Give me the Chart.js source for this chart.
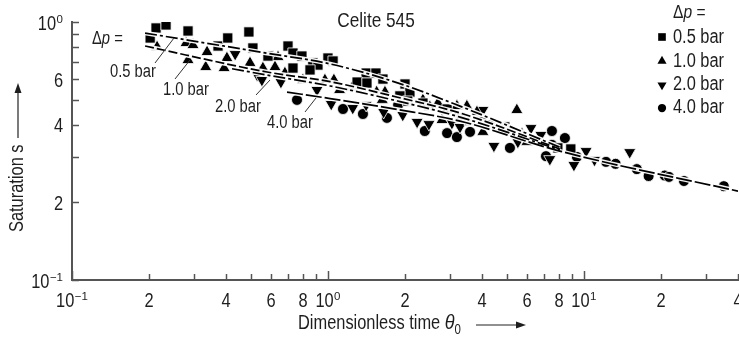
<!DOCTYPE html>
<html><head><meta charset="utf-8">
<script src="https://cdn.jsdelivr.net/npm/chart.js@4.4.1/dist/chart.umd.min.js"></script>
<style>
html,body{margin:0;padding:0;background:#fff;overflow:hidden;width:739px;height:341px}
#wrap{position:relative;width:760px;height:341px}
</style></head><body><div id="wrap"><canvas id="c"></canvas></div>
<script>
const FONT = '"Liberation Sans Narrow","Arial Narrow","Liberation Sans",Arial,sans-serif';
const SX = 0.82; // horizontal condensation of the sans font

// ---- tick values and labels: [base, superscript] ----
const xTickValues = [0.1,0.2,0.3,0.4,0.5,0.6,0.7,0.8,0.9,1,2,3,4,5,6,7,8,9,10,20,30,40];
const xTickLabels = [['10','-1'],['2',''],null,['4',''],null,['6',''],null,['8',''],null,['10','0'],['2',''],null,['4',''],null,['6',''],null,['8',''],null,['10','1'],['2',''],null,['4','']];
const yTickValues = [0.1,0.2,0.3,0.4,0.5,0.6,0.7,0.8,0.9,1];
const yTickLabels = [['10','-1'],['2',''],null,['4',''],null,['6',''],null,null,null,['10','0']];

// ---- series labels ----
const seriesLabels = ['0.5 bar','1.0 bar','2.0 bar','4.0 bar'];

// ---- Δp = 0.5 bar (squares) ----
const theta05 = [0.202,0.213,0.233,0.284,0.372,0.406,0.491,0.509,0.583,0.698,0.730,0.791,0.730,0.873,0.914,0.851,1.0,1.047,1.41,1.54,1.30,1.42,1.64,2.0,2.09,1.91,2.05,2.35,2.92,3.28,4.91,7.91,8.89];
const sat05   = [0.867,0.948,0.974,0.923,0.807,0.867,0.915,0.793,0.738,0.807,0.758,0.738,0.663,0.694,0.681,0.652,0.725,0.706,0.634,0.634,0.585,0.580,0.601,0.575,0.535,0.517,0.494,0.485,0.460,0.428,0.392,0.325,0.322];

// ---- Δp = 1.0 bar (triangles up) ----
const theta10 = [0.215,0.279,0.297,0.284,0.337,0.333,0.393,0.403,0.496,0.557,0.609,0.638,0.621,0.679,0.798,0.973,1.055,1.11,1.24,1.55,1.67,1.63,2.35,2.50,2.69,3.19,3.49,2.79,3.59,3.82,5.47,4.03,5.23,5.73,5.99];
const sat10   = [0.800,0.829,0.814,0.712,0.765,0.669,0.663,0.725,0.694,0.663,0.732,0.732,0.669,0.634,0.596,0.596,0.596,0.545,0.555,0.535,0.535,0.499,0.499,0.469,0.485,0.472,0.472,0.417,0.410,0.448,0.456,0.375,0.371,0.368,0.343];

// ---- Δp = 2.0 bar (triangles down) ----
const theta20 = [0.434,0.529,0.552,0.655,0.906,1.03,1.25,1.41,1.65,1.96,2.23,2.48,3.05,3.28,4.03,4.0,4.45,5.52,6.21,6.79,7.36,9.14,10.2,11.0,15.1];
const sat20   = [0.751,0.623,0.596,0.585,0.545,0.481,0.464,0.477,0.448,0.436,0.410,0.402,0.406,0.392,0.456,0.417,0.331,0.343,0.388,0.365,0.294,0.279,0.316,0.292,0.313];

// ---- Δp = 4.0 bar (circles) ----
const theta40 = [0.757,1.145,1.37,1.70,1.88,2.39,2.92,3.19,3.59,4.29,5.14,7.50,8.43,7.50,7.11,9.39,12.2,13.3,16.1,17.9,20.7,21.5,24.6,35.2];
const sat40   = [0.499,0.460,0.440,0.425,0.477,0.378,0.371,0.358,0.375,0.399,0.325,0.378,0.355,0.334,0.302,0.300,0.287,0.282,0.269,0.253,0.254,0.251,0.242,0.231];

// ---- fitted curves ----
const fit05Theta = [0.193,0.578,1.02,1.87,3.28,8.05];
const fit05Sat   = [0.906,0.757,0.688,0.581,0.472,0.327];
const fit10Theta = [0.193,0.578,1.02,1.87,3.28,8.05];
const fit10Sat   = [0.807,0.640,0.587,0.511,0.444,0.322];
const fit20Theta = [0.422,0.593,1.02,1.87,3.28,8.05];
const fit20Sat   = [0.659,0.620,0.565,0.494,0.428,0.319];
const fit40Theta = [0.692,1.02,1.87,3.28,8.05,40];
const fit40Sat   = [0.535,0.505,0.458,0.413,0.316,0.221];

const toPts = (xs, ys) => xs.map((x, i) => ({x: x, y: ys[i]}));

const markerStyles = [
  {pointStyle:'rect', rotation:0, radius:7.2},
  {pointStyle:'triangle', rotation:0, radius:7.0},
  {pointStyle:'triangle', rotation:180, radius:7.0},
  {pointStyle:'circle', rotation:0, radius:5.5}
];
const scatterSets = [[theta05,sat05],[theta10,sat10],[theta20,sat20],[theta40,sat40]];
const fitSets = [[fit05Theta,fit05Sat],[fit10Theta,fit10Sat],[fit20Theta,fit20Sat],[fit40Theta,fit40Sat]];
const fitDash = [[12,3,3,3],[9,3],[12,3,3,3],[16,3]];

const datasets = [];
scatterSets.forEach((s, i) => {
  datasets.push({
    label: seriesLabels[i], data: toPts(s[0], s[1]), order: 3,
    pointStyle: markerStyles[i].pointStyle, rotation: markerStyles[i].rotation,
    pointRadius: markerStyles[i].radius, backgroundColor:'#000', borderColor:'#fff', borderWidth:0.8, showLine:false
  });
});
fitSets.forEach((f, i) => {
  datasets.push({label:'halo'+i, data: toPts(f[0], f[1]), order: 2, showLine:true, pointRadius:0,
    borderColor:'rgba(255,255,255,0.95)', borderWidth:4.5, cubicInterpolationMode:'monotone', fill:false});
  datasets.push({label:'fit'+i, data: toPts(f[0], f[1]), order: 1, showLine:true, pointRadius:0,
    borderColor:'#000', borderWidth:1.7, borderDash: fitDash[i], cubicInterpolationMode:'monotone', fill:false});
});

const annot = {
  id:'annot',
  afterDraw(chart){
    const ctx = chart.ctx, xs = chart.scales.x, ys = chart.scales.y;
    const ca = chart.chartArea;
    ctx.save();
    // inward tick marks
    ctx.strokeStyle = '#555'; ctx.lineWidth = 1.5;
    xTickValues.forEach(v => {
      const px = Math.round(xs.getPixelForValue(v)) + 0.5;
      const decade = Math.abs(Math.log10(v) - Math.round(Math.log10(v))) < 1e-9;
      const len = decade ? 9 : 6;
      ctx.beginPath(); ctx.moveTo(px, ca.bottom); ctx.lineTo(px, ca.bottom - len); ctx.stroke();
    });
    yTickValues.forEach(v => {
      const py = Math.round(ys.getPixelForValue(v)) + 0.5;
      ctx.beginPath(); ctx.moveTo(ca.left, py); ctx.lineTo(ca.left + 7, py); ctx.stroke();
    });

    const fnt = (size, italic) => (italic ? 'italic ' : '') + size + 'px ' + FONT;
    function width(s, size, italic, sx){ ctx.font = fnt(size, italic); return ctx.measureText(s).width * sx; }
    function txt(s, x, y, size, italic, sx){
      ctx.save(); ctx.translate(x, y); ctx.scale(sx, 1);
      ctx.font = fnt(size, italic); ctx.textAlign = 'left'; ctx.textBaseline = 'alphabetic';
      ctx.fillText(s, 0, 0); ctx.restore();
    }
    // tick label with optional superscript; align: 'center' or 'right'
    function tickLabel(lab, x, y, align){
      const sup = lab[1].replace('-', '\u2212');
      const w1 = width(lab[0], 20, false, SX);
      const w2 = sup ? width(sup, 11.5, false, 1) + 0.5 : 0;
      const tot = w1 + w2;
      const x0 = align === 'center' ? x - tot / 2 : x - tot;
      txt(lab[0], x0, y, 20, false, SX);
      if (sup) txt(sup, x0 + w1 + 0.5, y - 7, 11.5, false, 1);
    }
    ctx.fillStyle = '#1e1e1e';
    xTickValues.forEach((v, i) => {
      if (xTickLabels[i]) tickLabel(xTickLabels[i], xs.getPixelForValue(v), 307, 'center');
    });
    yTickValues.forEach((v, i) => {
      if (yTickLabels[i]) tickLabel(yTickLabels[i], ca.left - 9, ys.getPixelForValue(v) + 7.5, 'right');
    });

    // title
    const tw = width('Celite 545', 21, false, SX);
    txt('Celite 545', 376 - tw / 2, 27, 21, false, SX);

    // "Δp ="
    function dp(x, y, size){
      txt('Δ', x, y, size, false, SX);
      let w = width('Δ', size, false, SX);
      txt('p', x + w, y, size, true, SX);
      w += width('p', size, true, SX);
      txt(' =', x + w, y, size, false, SX);
    }
    dp(92, 44, 18);
    // inline labels
    const inl = [[110,77],[163,95],[215,112],[267,128]];
    inl.forEach((p, i) => txt(seriesLabels[i], p[0], p[1], 18, false, SX));
    ctx.strokeStyle = '#333'; ctx.lineWidth = 1;
    const leaders = [[155,63,174,38],[175,79,190,60],[256,95,270,80],[305,112,316,98]];
    leaders.forEach(l => { ctx.beginPath(); ctx.moveTo(l[0], l[1]); ctx.lineTo(l[2], l[3]); ctx.stroke(); });

    // legend
    dp(673, 18, 19);
    const rowsY = [37, 61, 85, 108];
    const baseY = [43, 67, 90, 113];
    rowsY.forEach((y, i) => {
      ctx.fillStyle = '#000'; ctx.strokeStyle = '#000';
      Chart.helpers.drawPoint(ctx, {pointStyle: markerStyles[i].pointStyle, rotation: markerStyles[i].rotation,
        radius: markerStyles[i].radius * 0.75, borderWidth: 0}, 662, y);
      ctx.fillStyle = '#1e1e1e';
      txt(seriesLabels[i], 673, baseY[i], 20, false, SX);
    });

    // x-axis title
    const t1 = 'Dimensionless time ';
    txt(t1, 298, 329, 20, false, SX);
    let xw = 298 + width(t1, 20, false, SX);
    txt('θ', xw, 329, 20, true, 0.9);
    xw += width('θ', 20, true, 0.9);
    txt('0', xw, 334, 14, false, SX);
    ctx.strokeStyle = '#222'; ctx.lineWidth = 1.2;
    ctx.beginPath(); ctx.moveTo(476, 325); ctx.lineTo(520, 325); ctx.stroke();
    ctx.beginPath(); ctx.moveTo(526, 325); ctx.lineTo(516, 321.5); ctx.lineTo(516, 328.5); ctx.closePath(); ctx.fill();

    // y-axis title
    ctx.save();
    ctx.translate(23, 232); ctx.rotate(-Math.PI/2);
    txt('Saturation s', 0, 0, 20, false, SX);
    ctx.restore();
    ctx.beginPath(); ctx.moveTo(18, 138); ctx.lineTo(18, 90); ctx.stroke();
    ctx.beginPath(); ctx.moveTo(18, 83); ctx.lineTo(14.5, 93); ctx.lineTo(21.5, 93); ctx.closePath(); ctx.fill();
    ctx.restore();
  }
};

new Chart(document.getElementById('c'), {
  type: 'scatter',
  data: {datasets: datasets},
  options: {
    responsive: true, maintainAspectRatio: false, animation: false,
    layout: {padding: {top: 22, right: 22, left: 0, bottom: 0}},
    plugins: {legend: {display: false}, tooltip: {enabled: false}},
    scales: {
      x: {
        type: 'logarithmic', min: 0.1, max: 40,
        afterBuildTicks: s => { s.ticks = xTickValues.map(v => ({value: v})); },
        afterFit: s => { s.height = 61; },
        ticks: {display: false},
        grid: {display: true, drawOnChartArea: false, drawTicks: false},
        border: {display: true, color: '#555', width: 2}
      },
      y: {
        type: 'logarithmic', min: 0.1, max: 1,
        afterBuildTicks: s => { s.ticks = yTickValues.map(v => ({value: v})); },
        afterFit: s => { s.width = 72; },
        ticks: {display: false},
        grid: {display: true, drawOnChartArea: false, drawTicks: false},
        border: {display: true, color: '#555', width: 2}
      }
    }
  },
  plugins: [annot]
});
</script></body></html>
